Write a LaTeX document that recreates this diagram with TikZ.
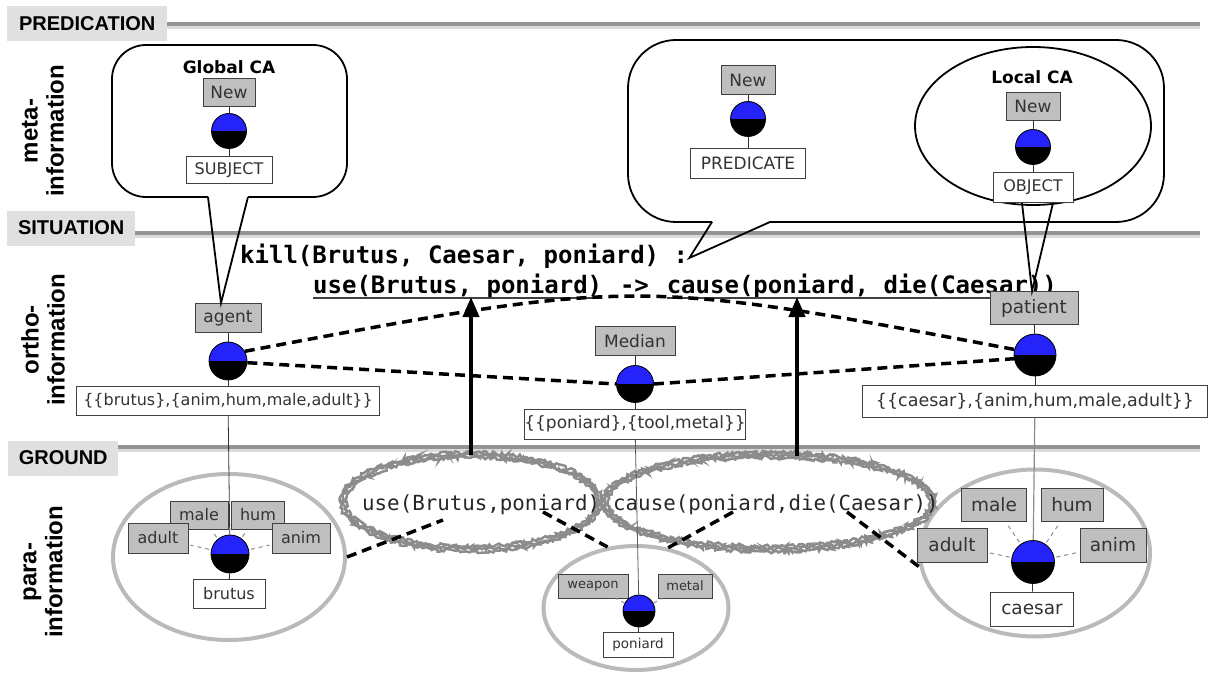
\documentclass[tikz,border=0pt]{standalone}
\usepackage{fontspec}
\newfontfamily\bandf{Liberation Sans}
\newfontfamily\bxf{DejaVu Sans}
\newfontfamily\monof{DejaVu Sans Mono}
\usetikzlibrary{shapes.geometric,arrows.meta,decorations.pathmorphing}
\newcommand\fsz[1]{\fontsize{#1}{#1}\selectfont}
\definecolor{ballblue}{RGB}{35,35,250}
\begin{document}
\begin{tikzpicture}[x=1pt,y=-1pt,
  bandlabel/.style={fill=black!12, font=\bandf\bfseries\fsz{20}, inner sep=0pt, minimum height=35pt},
  bandline/.style={line width=3.5pt, draw=black!42, preaction={draw=black!14, line width=4pt, transform canvas={yshift=-3pt}}},
  vlabel/.style={rotate=90, align=center, font=\bandf\bfseries\fontsize{24}{26}\selectfont},
  gbox/.style={draw=black!75, fill=black!25, text=black!80, inner sep=0pt, line width=0.8pt, font=\bxf\fsz{16}},
  wbox/.style={draw=black!75, fill=white, text=black!80, inner sep=0pt, line width=0.8pt, font=\bxf\fsz{16}},
  ball/.style={circle, draw=black, line width=0.8pt, fill=black, inner sep=0pt,
    path picture={\fill[ballblue] (path picture bounding box.north west) rectangle (path picture bounding box.east);}},
  thinln/.style={line width=0.8pt, black!80},
  callout/.style={line width=1.8pt, black},
  thickdash/.style={line width=3.5pt, dash pattern=on 10pt off 6pt},
  tick/.style={black!45, line width=1pt, dash pattern=on 4pt off 4pt, shorten <=2pt, shorten >=2pt},
  groundring/.style={draw=black!27, line width=4pt, ellipse, inner sep=0pt},
  rough/.style={draw=black!45, line width=2.5pt, decorate, decoration={random steps, segment length=2pt, amplitude=1.8pt}},
  bigarrow/.style={line width=4pt, -{Triangle[width=16pt,length=20pt]}},
  ul/.style={line width=1.3pt, black!75},
  sitfont/.style={font=\monof\bfseries\fsz{24}, inner sep=0pt},
  roughfont/.style={font=\monof\fsz{20.8}, inner sep=0pt, text=black!85}
]
\useasboundingbox (0,0) rectangle (1216,674);

% ---------- bands ----------
\node[bandlabel, minimum width=160pt, anchor=west] (pred) at (7,24) {PREDICATION};
\node[bandlabel, minimum width=128pt, anchor=west] (sit) at (7,228) {SITUATION};
\node[bandlabel, minimum width=110pt, anchor=west] (grd) at (8,458) {GROUND};
\coordinate (pe) at (1200,24);
\coordinate (se) at (1200,233);
\coordinate (ge) at (1200,447);
\draw[bandline] (pred.east |- pe) -- (pe);
\draw[bandline] (sit.east |- se) -- (se);
\draw[bandline] (grd.east |- ge) -- (ge);

\node[vlabel] (metaL) at (43,131) {meta-\\information};
\node[vlabel] (orthoL) at (43,340) {ortho-\\information};
\node[vlabel] (paraL) at (43,572) {para-\\information};

% ---------- ground rings ----------
\node[groundring, minimum width=232pt, minimum height=166pt] (bE) at (229,557) {};
\node[groundring, minimum width=185pt, minimum height=124pt] (pE) at (636,608) {};
\node[groundring, minimum width=230pt, minimum height=167pt] (cE) at (1035,553) {};

% rough ellipses
\foreach \d in {-2.5,0,2.5} {
  \draw[rough] (471,502) ellipse [x radius=128+\d, y radius=47+\d];
  \draw[rough] (769,502) ellipse [x radius=164+\d, y radius=47+\d];
}
\node[ellipse, minimum width=256pt, minimum height=94pt, inner sep=0pt] (useE) at (471,502) {};
\node[ellipse, minimum width=328pt, minimum height=94pt, inner sep=0pt] (causeE) at (769,502) {};
\node[roughfont, anchor=base west] (useT) at (362,510) {use(Brutus,poniard)};
\node[roughfont, anchor=base west] (causeT) at (613,510) {cause(poniard,die(Caesar))};

% ---------- meta: global CA ----------
\coordinate (gA) at (208,197);
\coordinate (gB) at (248,197);
\draw[callout, rounded corners=34pt] (gA) -- (112,197) -- (112,45) -- (347,45) -- (347,197) -- (gB);
\node[font=\bxf\bfseries\fsz{17}] (gca) at (229,67) {Global CA};
\node[gbox, minimum width=52pt, minimum height=28pt, font=\bxf\fsz{17}] (new1) at (229,92) {New};
\node[ball, minimum size=35pt] (b1) at (229,131) {};
\node[wbox, minimum width=86pt, minimum height=27pt] (subj) at (229,170) {SUBJECT};
\draw[thinln] (new1) -- (b1);
\draw[thinln] (b1) -- (subj);

% ---------- meta: right callout ----------
\coordinate (rA) at (712,222);
\coordinate (rB) at (770,222);
\draw[callout, rounded corners=48pt] (rA) -- (628,222) -- (628,40) -- (1164,40) -- (1164,222) -- (rB);
\node[gbox, minimum width=54pt, minimum height=29pt, font=\bxf\fsz{17}] (new2) at (748,80) {New};
\node[ball, minimum size=35pt] (b2) at (748,119) {};
\node[wbox, minimum width=115pt, minimum height=30pt, font=\bxf\fsz{17}] (predN) at (748,163) {PREDICATE};
\draw[thinln] (new2) -- (b2);
\draw[thinln] (b2) -- (predN);

\node[ellipse, draw, line width=1.8pt, minimum width=236pt, minimum height=158pt, inner sep=0pt] (locE) at (1033,126) {};
\node[font=\bxf\bfseries\fsz{17}] (lca) at (1032,77) {Local CA};
\node[gbox, minimum width=54pt, minimum height=28pt, font=\bxf\fsz{17}] (new3) at (1033,106) {New};
\node[ball, minimum size=35pt] (b3) at (1033,147) {};
\node[wbox, minimum width=80pt, minimum height=30pt, font=\bxf\fsz{16}] (objN) at (1033,187) {OBJECT};
\draw[thinln] (new3) -- (b3);
\draw[thinln] (b3) -- (objN);

% ---------- situation text ----------
\node[sitfont, anchor=base west] (kill) at (240,263) {kill(Brutus, Caesar, poniard) :};
\node[sitfont, anchor=base west] (useS) at (313,293) {use(Brutus, poniard)};
\node[sitfont, anchor=base west] (imp) at (useS.base east) {\hphantom{x}\kern3pt->\kern3pt\hphantom{x}};
\node[sitfont, anchor=base west] (causeS) at (imp.base east) {cause(poniard, die(Caesar))};
\draw[ul] ([yshift=-5pt]useS.base west) -- ([yshift=-5pt]useS.base east);
\draw[ul] ([yshift=-5pt]causeS.base west) -- ([yshift=-5pt]causeS.base east);

% ---------- ortho nodes ----------
\node[gbox, minimum width=66pt, minimum height=29pt, font=\bxf\fsz{17}] (agent) at (228,318) {agent};
\node[ball, minimum size=38pt] (agC) at (228,361) {};
\node[wbox, minimum width=303pt, minimum height=29pt] (brInfo) at (228,401) {\{\{brutus\},\{anim,hum,male,adult\}\}};

\node[gbox, minimum width=80pt, minimum height=29pt, font=\bxf\fsz{17}] (median) at (635,341) {Median};
\node[ball, minimum size=37pt] (mdC) at (635,384) {};
\node[wbox, minimum width=216pt, minimum height=30pt, font=\bxf\fsz{17}] (poInfo) at (635,424) {\{\{poniard\},\{tool,metal\}\}};

\node[gbox, minimum width=88pt, minimum height=33pt, font=\bxf\fsz{18.5}] (patient) at (1034,308) {patient};
\node[ball, minimum size=42pt] (paC) at (1035,355) {};
\node[wbox, minimum width=345pt, minimum height=32pt, font=\bxf\fsz{17.5}] (caInfo) at (1035,401) {\{\{caesar\},\{anim,hum,male,adult\}\}};

% callout tails
\coordinate (gT) at ([xshift=-7pt]agent.north);
\draw[callout] (gA) -- (gT) -- (gB);
\coordinate (rT) at ([xshift=1pt,yshift=5pt]kill.base east);
\draw[callout] (rA) -- (rT) -- (rB);
\coordinate (lA) at (1022,203);
\coordinate (lB) at (1053,203);
\coordinate (lT) at ([xshift=-2pt]patient.north);
\draw[callout] (lA) -- (lT) -- (lB);

% ---------- ground nodes ----------
% brutus
\node[gbox, minimum width=58pt, minimum height=28pt] (bMale) at (199,515) {male};
\node[gbox, minimum width=53pt, minimum height=28pt] (bHum) at (258,515) {hum};
\node[gbox, minimum width=60pt, minimum height=30pt] (bAdult) at (158,538) {adult};
\node[gbox, minimum width=58pt, minimum height=30pt] (bAnim) at (301,538) {anim};
\node[ball, minimum size=38pt] (bC) at (230,554) {};
\node[wbox, minimum width=72pt, minimum height=29pt] (bName) at (229,594) {brutus};
% poniard
\node[gbox, minimum width=70pt, minimum height=24pt, font=\bxf\fsz{13}] (pWeapon) at (593,586) {weapon};
\node[gbox, minimum width=54pt, minimum height=24pt, font=\bxf\fsz{13}] (pMetal) at (685,586) {metal};
\node[ball, minimum size=32pt] (pC) at (639,611) {};
\node[wbox, minimum width=70pt, minimum height=25pt, font=\bxf\fsz{13.5}] (pName) at (638,645) {poniard};
% caesar
\node[gbox, minimum width=65pt, minimum height=33pt, font=\bxf\fsz{18.5}] (cMale) at (994,505) {male};
\node[gbox, minimum width=62pt, minimum height=33pt, font=\bxf\fsz{18.5}] (cHum) at (1072,505) {hum};
\node[gbox, minimum width=70pt, minimum height=34pt, font=\bxf\fsz{18.5}] (cAdult) at (952,545) {adult};
\node[gbox, minimum width=66pt, minimum height=34pt, font=\bxf\fsz{18.5}] (cAnim) at (1113,545) {anim};
\node[ball, minimum size=43pt] (cC) at (1033,562) {};
\node[wbox, minimum width=83pt, minimum height=34pt, font=\bxf\fsz{18.5}] (cName) at (1032,609) {caesar};

% ---------- thin vertical connectors ----------
\draw[thinln] (agent) -- (agC);
\draw[thinln] (agC) -- (brInfo);
\draw[thinln] (brInfo) -- (bC);
\draw[thinln] (bC) -- (bName);
\draw[thinln] (median) -- (mdC);
\draw[thinln] (mdC) -- (poInfo);
\draw[thinln, black!65] (poInfo) -- (pC);
\draw[thinln] (pC) -- (pName);
\draw[thinln] (patient) -- (paC);
\draw[thinln] (paC) -- (caInfo);
\draw[thinln, black!45, line width=1.2pt] (caInfo) -- (cC);
\draw[thinln] (cC) -- (cName);

% ticks
\draw[tick] (bC) -- (bAdult);
\draw[tick] (bC) -- (bMale);
\draw[tick] (bC) -- (bHum);
\draw[tick] (bC) -- (bAnim);
\draw[tick, shorten <=0pt, shorten >=0pt] (pC) -- (pWeapon);
\draw[tick, shorten <=0pt, shorten >=0pt] (pC) -- (pMetal);
\draw[tick] (cC) -- (cAdult);
\draw[tick] (cC) -- (cMale);
\draw[tick] (cC) -- (cHum);
\draw[tick] (cC) -- (cAnim);

% ---------- thick dashed relations ----------
\draw[thickdash] (agC.30) .. controls (635,278) .. (paC.165);
\draw[thickdash] (agC.-5) -- (mdC.west);
\draw[thickdash] (mdC.east) -- (paC.190);

\coordinate (uB) at (443,520);
\coordinate (uP) at (543,512);
\coordinate (cP) at (733,512);
\coordinate (cCs) at (847,512);
\draw[thickdash] (bE.east) -- (uB);
\draw[thickdash] (uP) -- (pE.115);
\draw[thickdash] (cP) -- (pE.62);
\draw[thickdash] (cCs) -- (cE.187);

% ---------- arrows ----------
\coordinate (a1t) at (470,297);
\coordinate (a2b) at (797,456);
\coordinate (a2t) at (797,297);
\draw[bigarrow] (useE.north) -- (useE.north |- a1t);
\draw[bigarrow] (a2b) -- (a2t);
\end{tikzpicture}
\end{document}
